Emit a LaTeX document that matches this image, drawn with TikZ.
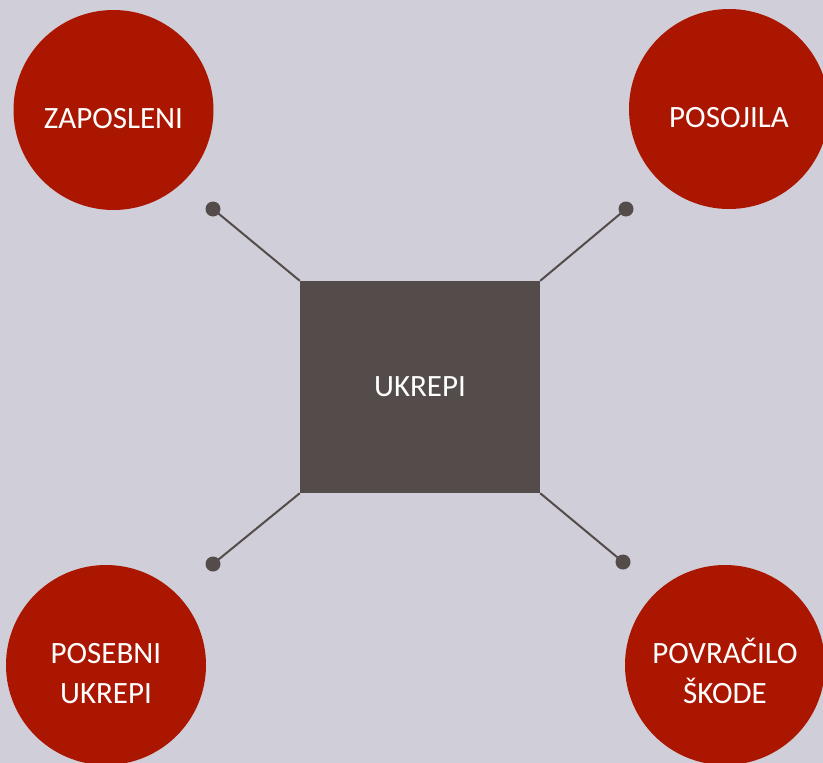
\documentclass[tikz,border=0pt]{standalone}
\usepackage{fontspec}
\setmainfont{Carlito}
\definecolor{bg}{HTML}{D0CED8}
\definecolor{topic}{HTML}{AA1600}
\definecolor{hub}{HTML}{544B4B}
\newcommand{\twolines}[2]{\begin{tabular}[t]{@{}c@{}}#1\\#2\end{tabular}}
\tikzset{
  topic/.style={circle, fill=topic, text=white, minimum size=200pt, inner sep=0pt, font=\fontsize{31}{40}\selectfont},
  oneline/.style={text height=37pt, text depth=0pt},
  twoline/.style={text height=50pt, text depth=54pt},
  hubbox/.style={rectangle, fill=hub, text=white, minimum width=240pt, minimum height=212pt, inner sep=0pt, font=\fontsize{31}{40}\selectfont},
  enddot/.style={circle, fill=hub, minimum size=15pt, inner sep=0pt},
  link/.style={hub, line width=2pt}
}
\begin{document}
\begin{tikzpicture}[x=1pt,y=-1pt]
\fill[bg] (0,0) rectangle (823,763);
\useasboundingbox (0,0) rectangle (823,763);

\node[hubbox] (ukrepi) at (420,387) {UKREPI};

\node[topic, oneline] (zaposleni) at (113.5,110) {ZAPOSLENI};
\node[topic, oneline] (posojila) at (729,109) {POSOJILA};
\node[topic, twoline] (posebni) at (106,665) {\twolines{POSEBNI}{UKREPI}};
\node[topic, twoline] (povracilo) at (725,665) {\twolines{POVRAČILO}{ŠKODE}};

\node[enddot] (dzap) at (213,209) {};
\node[enddot] (dpos) at (626,209) {};
\node[enddot] (dseb) at (213,564) {};
\node[enddot] (dpov) at (623,562) {};

\draw[link] (ukrepi.north west) -- (dzap.center);
\draw[link] (ukrepi.north east) -- (dpos.center);
\draw[link] (ukrepi.south west) -- (dseb.center);
\draw[link] (ukrepi.south east) -- (dpov.center);
\end{tikzpicture}
\end{document}
